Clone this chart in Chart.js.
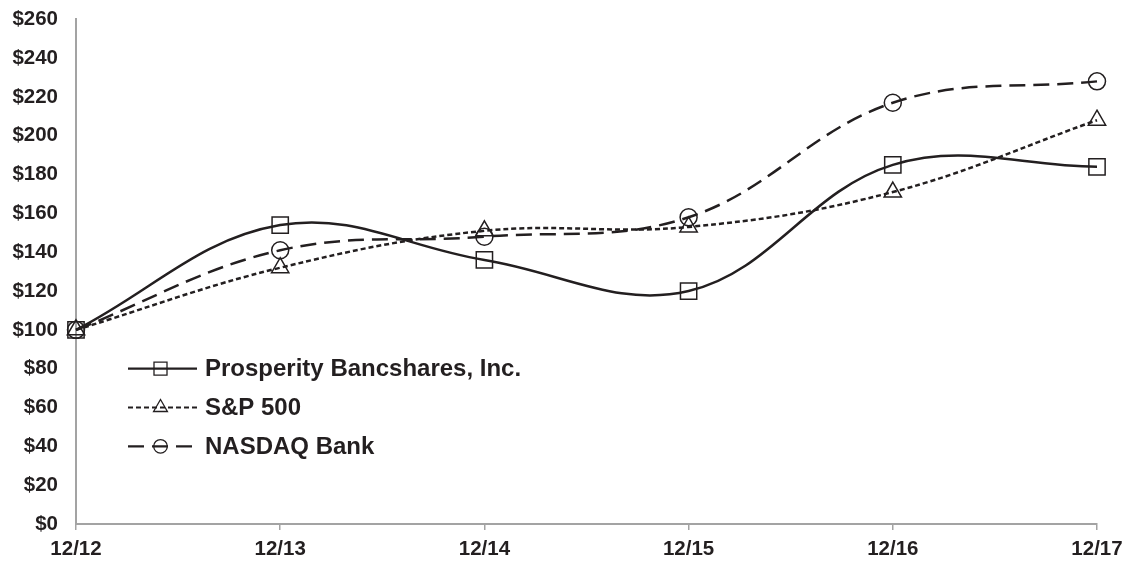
<!DOCTYPE html>
<html>
<head>
<meta charset="utf-8">
<script src="https://cdn.jsdelivr.net/npm/chart.js@4"></script>
<style>
  html, body { margin: 0; padding: 0; background: #fff; }
  #wrap { width: 1127px; height: 563px; position: relative; }
</style>
</head>
<body>
<div id="wrap"><canvas id="chart"></canvas></div>
<script>
// values
const years = ['12/12', '12/13', '12/14', '12/15', '12/16', '12/17'];
const prosperity = [100, 154, 136, 120, 185, 184];
const sp500 = [100, 132, 151, 153, 171, 208];
const nasdaqBank = [100, 141, 148, 158, 217, 228];

const ink = '#231f20';
const axisGray = '#a3a3a3';
const family = '"Liberation Sans", Arial, sans-serif';
const tickFont = { family: family, weight: 'bold', size: 20.5, lineHeight: 1.0 };

function series(label, data, style, radius, dash) {
    return {
        label: label, data: data,
        borderColor: ink, borderWidth: 2.5, borderDash: dash,
        pointStyle: style, pointRadius: radius, pointHoverRadius: radius,
        pointBackgroundColor: 'rgba(0,0,0,0)', pointBorderColor: ink, pointBorderWidth: 1.5,
        tension: 0.38, fill: false
    };
}

// legend drawn inside the plot area, rows lined up with $80 / $60 / $40
const insideLegend = {
    id: 'insideLegend',
    afterDraw(chart) {
        const ctx = chart.ctx;
        const yScale = chart.scales.y;
        const x0 = 128, x1 = 197, tx = 205;
        const rows = [80, 60, 40];
        ctx.save();
        chart.data.datasets.forEach((ds, i) => {
            const y = yScale.getPixelForValue(rows[i]);
            ctx.strokeStyle = ink;
            ctx.lineWidth = 2.2;
            ctx.setLineDash(ds.borderDash || []);
            ctx.beginPath();
            ctx.moveTo(x0, y);
            ctx.lineTo(x1, y);
            ctx.stroke();
            ctx.setLineDash([]);
            ctx.lineWidth = 1.3;
            ctx.fillStyle = 'rgba(0,0,0,0)';
            Chart.helpers.drawPoint(ctx, { pointStyle: ds.pointStyle, radius: ds.pointRadius * 0.8, borderWidth: 1.3 }, (x0 + x1) / 2 - 2, y);
            ctx.fillStyle = ink;
            ctx.font = `bold 24px ${family}`;
            ctx.textBaseline = 'middle';
            ctx.fillText(ds.label, tx, y + 1);
        });
        ctx.restore();
    }
};

new Chart(document.getElementById('chart'), {
    type: 'line',
    data: {
        labels: years,
        datasets: [
            series('Prosperity Bancshares, Inc.', prosperity, 'rect', 11.5, []),
            series('S&P 500', sp500, 'triangle', 10, [5, 3]),
            series('NASDAQ Bank', nasdaqBank, 'circle', 8.5, [16, 8])
        ]
    },
    options: {
        responsive: true, maintainAspectRatio: false, animation: false,
        layout: { padding: { top: 12, right: 30, bottom: 0, left: 0 } },
        plugins: { legend: { display: false }, tooltip: { enabled: false } },
        scales: {
            x: {
                offset: false,
                grid: { drawOnChartArea: false, drawTicks: true, tickLength: 6, color: axisGray, lineWidth: 1.5 },
                border: { color: axisGray, width: 2 },
                ticks: { color: ink, font: tickFont, padding: 9, maxRotation: 0 },
                afterFit: s => { s.height = 39; s.paddingRight = 0; s.paddingLeft = 0; }
            },
            y: {
                min: 0, max: 260,
                grid: { display: false, tickLength: 9 },
                border: { color: axisGray, width: 2 },
                ticks: { stepSize: 20, color: ink, font: tickFont, padding: 9, callback: v => '$' + v },
                afterFit: s => { s.width = 76; }
            }
        }
    },
    plugins: [insideLegend]
});
</script>
</body>
</html>
